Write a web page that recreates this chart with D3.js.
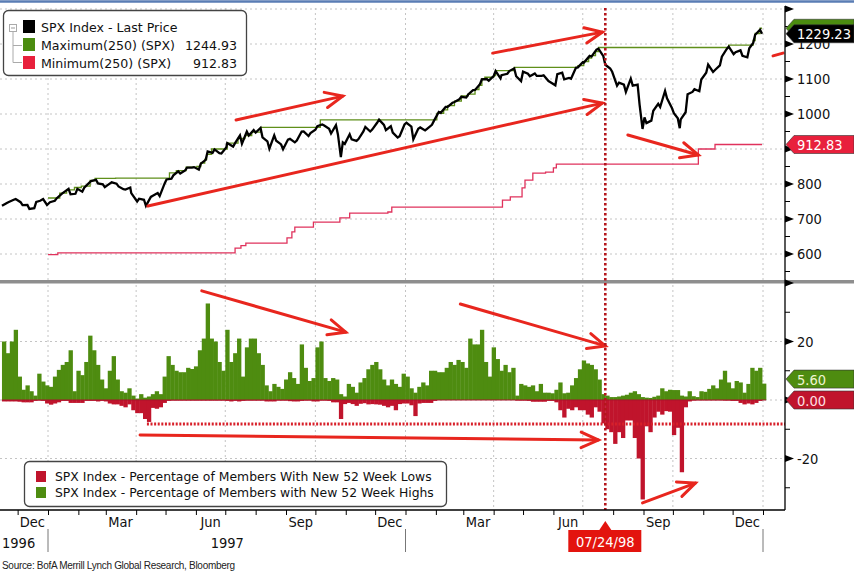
<!DOCTYPE html>
<html><head><meta charset="utf-8">
<script src="https://cdn.jsdelivr.net/npm/d3@7"></script>
<style>body{margin:0;background:#fff}svg{display:block}</style>
</head><body>
<svg id="c" width="854" height="572"></svg>
<script>
// ---------------- DATA ----------------
// weekly closes
const priceDates = ["1996-11-15","1996-11-22","1996-11-29","1996-12-06","1996-12-13","1996-12-20","1996-12-27","1997-01-03","1997-01-10","1997-01-17","1997-01-24","1997-01-31","1997-02-07","1997-02-14","1997-02-21","1997-02-28","1997-03-07","1997-03-14","1997-03-21","1997-03-27","1997-04-04","1997-04-11","1997-04-18","1997-04-25","1997-05-02","1997-05-09","1997-05-16","1997-05-23","1997-05-30","1997-06-06","1997-06-13","1997-06-20","1997-06-27","1997-07-03","1997-07-11","1997-07-18","1997-07-25","1997-08-01","1997-08-08","1997-08-15","1997-08-22","1997-08-29","1997-09-05","1997-09-12","1997-09-19","1997-09-26","1997-10-03","1997-10-10","1997-10-17","1997-10-24","1997-10-27","1997-10-31","1997-11-07","1997-11-14","1997-11-21","1997-11-28","1997-12-05","1997-12-12","1997-12-19","1997-12-26","1998-01-02","1998-01-09","1998-01-16","1998-01-23","1998-01-30","1998-02-06","1998-02-13","1998-02-20","1998-02-27","1998-03-06","1998-03-13","1998-03-20","1998-03-27","1998-04-03","1998-04-09","1998-04-17","1998-04-24","1998-05-01","1998-05-08","1998-05-15","1998-05-22","1998-05-29","1998-06-05","1998-06-12","1998-06-19","1998-06-26","1998-07-02","1998-07-10","1998-07-17","1998-07-24","1998-07-31","1998-08-07","1998-08-14","1998-08-21","1998-08-28","1998-08-31","1998-09-04","1998-09-11","1998-09-18","1998-09-25","1998-10-02","1998-10-08","1998-10-09","1998-10-16","1998-10-23","1998-10-30","1998-11-06","1998-11-13","1998-11-20","1998-11-27","1998-12-04","1998-12-11","1998-12-18","1998-12-24","1998-12-31"];
const priceValues = [737.6,748.7,757.0,739.6,728.6,748.9,756.8,748.0,759.5,776.2,770.5,786.2,789.6,808.5,801.8,790.8,804.9,793.2,784.1,773.9,757.9,737.7,766.3,765.4,812.9,824.8,829.8,847.0,848.3,858.0,893.3,898.7,887.3,916.9,916.7,915.3,938.8,947.1,933.5,900.8,923.5,899.5,929.1,923.9,950.5,945.2,965.0,966.9,944.2,941.6,876.9,914.6,927.5,928.4,963.1,955.4,983.8,954.0,946.8,936.5,975.0,927.7,961.5,957.6,980.3,1003.5,1020.1,1034.2,1049.3,1055.7,1068.6,1099.2,1095.4,1122.7,1110.7,1122.7,1107.9,1121.0,1108.1,1108.7,1110.5,1090.8,1113.9,1098.8,1100.7,1133.2,1146.4,1164.3,1186.8,1140.8,1120.7,1089.5,1062.8,1081.2,1027.1,957.3,973.9,1009.1,1020.1,1044.8,1002.6,959.4,984.6,1056.4,1070.7,1098.7,1141.0,1125.7,1163.6,1192.3,1176.7,1166.5,1188.0,1226.3,1229.23];
// mid-week readings
const midDates = ["1996-11-20","1996-11-27","1996-12-04","1996-12-11","1996-12-18","1996-12-24","1996-12-31","1997-01-08","1997-01-15","1997-01-22","1997-01-29","1997-02-05","1997-02-12","1997-02-19","1997-02-26","1997-03-05","1997-03-12","1997-03-19","1997-03-26","1997-04-02","1997-04-09","1997-04-16","1997-04-23","1997-04-30","1997-05-07","1997-05-14","1997-05-21","1997-05-28","1997-06-04","1997-06-11","1997-06-18","1997-06-25","1997-07-02","1997-07-09","1997-07-16","1997-07-23","1997-07-30","1997-08-06","1997-08-13","1997-08-20","1997-08-27","1997-09-03","1997-09-10","1997-09-17","1997-09-24","1997-10-01","1997-10-08","1997-10-15","1997-10-22","1997-10-29","1997-11-05","1997-11-12","1997-11-19","1997-11-26","1997-12-03","1997-12-10","1997-12-17","1997-12-24","1997-12-31","1998-01-07","1998-01-14","1998-01-21","1998-01-28","1998-02-04","1998-02-11","1998-02-18","1998-02-25","1998-03-04","1998-03-11","1998-03-18","1998-03-25","1998-04-01","1998-04-08","1998-04-15","1998-04-22","1998-04-29","1998-05-06","1998-05-13","1998-05-20","1998-05-27","1998-06-03","1998-06-10","1998-06-17","1998-06-24","1998-07-01","1998-07-08","1998-07-15","1998-07-22","1998-07-29","1998-08-05","1998-08-12","1998-08-19","1998-08-26","1998-09-02","1998-09-09","1998-09-16","1998-09-23","1998-09-30","1998-10-06","1998-10-14","1998-10-21","1998-10-28","1998-11-04","1998-11-11","1998-11-18","1998-11-25","1998-12-02","1998-12-09","1998-12-16","1998-12-22","1998-12-29"];
const midValues = [746,755,748,740,731,752,740,752,772,786,772,778,803,812,799,801,801,785,790,750,755,763,774,801,815,836,839,847,841,869,889,888,904,907,939,950,954,960,922,939,913,927,919,950,937,955,970,958,968,919,942,923,950,950,975,969,965,933,970,964,958,953,969,1006,1020,1032,1042,1047,1068,1085,1100,1108,1102,1115,1130,1094,1115,1116,1109,1094,1082,1118,1103,1132,1148,1166,1184,1165,1130,1081,1084,1101,1084,990,981,1029,1066,1017,988,1005,1063,1065,1118,1120,1139,1186,1171,1182,1162,1203,1241];

const maxDates = ["1997-01-01","1997-01-13","1997-01-20","1997-01-28","1997-02-04","1997-02-13","1997-02-18","1997-03-11","1997-05-05","1997-05-12","1997-05-22","1997-06-02","1997-06-06","1997-06-10","1997-06-12","1997-06-17","1997-07-03","1997-07-14","1997-07-21","1997-07-28","1997-08-06","1997-10-06","1998-02-02","1998-02-09","1998-02-13","1998-02-20","1998-02-27","1998-03-06","1998-03-13","1998-03-17","1998-03-20","1998-03-23","1998-04-01","1998-04-03","1998-04-22","1998-06-26","1998-07-02","1998-07-07","1998-07-10","1998-07-14","1998-07-17","1998-11-27","1998-12-22","1998-12-24","1998-12-29","1998-12-31"];
const maxValues = [760,774,783,790,794,810,816,817,832,838,848,850,860,870,885,900,917,930,938,948,962,983,1002,1012,1024,1037,1052,1057,1070,1082,1101,1105,1110,1124,1133,1138,1150,1160,1167,1178,1190,1197,1210,1230,1244.93,1244.93];

const minDates = ["1997-01-01","1997-01-11","1997-07-11","1997-07-17","1997-07-22","1997-09-02","1997-09-07","1997-09-10","1997-09-29","1997-10-26","1997-11-05","1997-12-14","1997-12-18","1998-04-10","1998-04-18","1998-04-30","1998-05-03","1998-05-11","1998-05-24","1998-06-01","1998-06-04","1998-10-27","1998-11-13","1998-12-31"];
const minValues = [598,603,617,624,631,646,663,677,691,703,717,720,734,754,763,789,811,831,834,846,857,900,912.83,912.83];

// breadth bars: one value per 4-day period starting at barStart
const barStart = "1996-11-15";
const barStepDays = 4;
const highsPct = [20,16,20,24,8,3.5,5,3,1.5,9,
 6.3,5,4.5,8,10.3,12,13,17,3,10,
 8.5,13,22,17,12,7,4,10,15,7,
 3,2.5,4,1.5,0.5,2,0.8,1.2,2,3,
 2,8,15,12,10,9.5,9.5,11,10.6,11.5,
 17,21,33,21,20,13,10,24,13,16,
 21,8,18,21,21,16,12,5,3,5.5,
 4.5,3.8,7,9.5,7.5,5.5,19,11,6.5,7.5,
 18,20,7.5,6.5,7.5,7,2,1.2,5.5,4.5,
 2.5,6,7.5,10.5,12,13,10.5,7,5,7,
 5.5,4.5,9,8,4,2.5,4.5,6,5,10,
 10,9.5,9.5,11,13,12,13.7,13,11,21,
 19,19,24,13,8,18,14,10,12,9.5,
 11,1.5,5.5,5,4.5,5,3,5.5,2.5,2.5,
 2.3,3.5,6,2.3,2.5,5,7.5,10.5,13.5,12.5,
 12,10.5,7,2,1.5,1,1,1.2,1.5,1.8,
 2.5,3,2,1,0.8,0.7,1.1,1.5,4,3,
 3.5,3.4,3.4,1.5,1.2,3,1.3,1,3,2.8,
 3.8,5,4,7,10,6,4,6.5,6,2.5,
 5.5,11,10,11,5.6];
const lowsPct = [-0.5,-0.5,-0.5,-0.5,-0.6,-0.8,-0.8,-0.8,-0.3,-0.2,
 -0.3,-1.2,-1.6,-1.2,-0.8,-0.3,-0.3,-1,-1,-1,
 -1,-0.3,-0.3,-0.3,-0.5,-0.3,-0.5,-1.2,-1.5,-1.5,
 -2,-2.5,-1.5,-3.5,-4.5,-4.5,-6.5,-7.5,-2.7,-3,
 -2.5,-1,-0.3,-0.2,-0.2,-0.2,-0.2,-0.2,-0.2,-0.2,
 -0.2,-0.2,-0.2,-0.2,-0.2,-0.2,-0.2,-0.3,-0.5,-0.3,
 -0.5,-0.3,-0.2,-0.2,-0.2,-0.2,-0.2,-0.5,-0.5,-0.5,
 -0.2,-0.2,-0.2,-0.4,-0.5,-0.5,-0.3,-0.2,-0.2,-0.5,
 -0.5,-0.2,-0.2,-0.3,-0.8,-0.8,-6.5,-1.4,-1,-1.4,
 -2,-1.3,-1.1,-1.5,-1.4,-1.5,-1.6,-2,-2.5,-2,
 -3.5,-1.4,-1.2,-1.2,-1.8,-5.5,-1.2,-1,-1,-1,
 -0.3,0,0,0,0,0,0,0,0,0,
 0,0,0,0,0,0,0,0,0,0,
 0,-0.2,-0.2,-0.2,-0.3,-0.6,-0.6,-0.6,-0.6,-0.3,
 -0.3,-0.8,-3.5,-6,-3,-3.5,-2.5,-3.5,-3.5,-5,
 -6,-2.5,-4,-8,-10,-11,-15,-11,-13,-7,
 -7,-13,-20,-34,-9,-11,-6,-4,-5,-3.8,
 -4,-12,-9.5,-24.7,-2.5,-0.5,-0.2,-0.1,-0.1,-0.1,
 -0.1,-0.1,-0.1,-0.1,-0.2,-0.2,-0.3,-0.3,-1,-1.5,
 -1.2,-1.5,-1,-0.3,0];

const priceTicks = [600,700,800,900,1000,1100,1200,1300];
const priceTickLabels = [600,700,800,1000,1100,1200];
const priceMinorTicks = [550,650,750,850,950,1050,1150,1250];
const pctTicks = [40,20,0,-20];
const pctTickLabels = [20,-20];
const pctMinorTicks = [30,10,-10,-30];
const monthLabelNames = ["Dec","Mar","Jun","Sep"];
const yearLabels = ["1996","1997"];
const legendTop = [
  {name:"SPX Index - Last Price", value:"", color:"#000000"},
  {name:"Maximum(250) (SPX)", value:"1244.93", color:"#4b8c10"},
  {name:"Minimum(250) (SPX)", value:"912.83", color:"#e8203c"}
];
const legendBottom = [
  {name:"SPX Index - Percentage of Members With New 52 Week Lows", color:"#c0142c"},
  {name:"SPX Index - Percentage of Members with New 52 Week Highs", color:"#4e8c10"}
];
const lastPrice = 1229.23, lastMax = 1244.93, lastMin = 912.83, lastHigh = 5.60, lastLow = 0.00;
const markerDate = "1998-07-24";
// hand-drawn annotations in data coordinates [date, value]
const topArrows = [
  [["1997-07-12",983],["1997-10-29",1051]],
  [["1997-04-13",737],["1998-07-21",1031]],
  [["1998-03-31",1174],["1998-07-21",1234]],
  [["1998-08-16",940],["1998-10-27",883]]
];
const bottomArrows = [
  [["1997-06-07",37.3],["1997-11-01",23.2]],
  [["1998-02-26",32.8],["1998-07-24",18.5]],
  [["1997-04-05",-12.0],["1998-07-17",-13.7]],
  [["1998-08-31",-35.2],["1998-10-24",-28.4]]
];
const lowsThresholdStart = "1997-04-12", lowsThreshold = -8.2;

// ---------------- CHART ----------------
const parse = d3.timeParse("%Y-%m-%d");
const svg = d3.select("#c");
const AX = 785;
const FONT_AX = "'DejaVu Sans Condensed','DejaVu Sans',sans-serif";
const FONT_LG = "'DejaVu Sans',sans-serif";

const x = d3.scaleTime().domain([new Date(1997,0,1), new Date(1999,0,1)]).range([48,763]);
const yP = d3.scaleLinear().domain([800,1200]).range([184,44]);
const yB = d3.scaleLinear().domain([0,20]).range([400,341.5]);

// top blue rule
svg.append("line").attr("x1",0).attr("x2",854).attr("y1",1.5).attr("y2",1.5)
  .attr("stroke","#5a7db4").attr("stroke-width",2.5);

// gridlines
const grid = svg.append("g").attr("stroke","#c4c4c4").attr("stroke-dasharray","2,3").attr("stroke-width",1);
priceTicks.forEach(v => grid.append("line").attr("x1",0).attr("x2",AX).attr("y1",yP(v)).attr("y2",yP(v)));
[20,0,-20].forEach(v => grid.append("line").attr("x1",0).attr("x2",AX).attr("y1",yB(v)).attr("y2",yB(v)));
const quarters = d3.timeMonth.every(3).range(new Date(1997,0,1), new Date(1999,0,2));
quarters.forEach(d => {
  grid.append("line").attr("x1",x(d)).attr("x2",x(d)).attr("y1",8).attr("y2",280);
  grid.append("line").attr("x1",x(d)).attr("x2",x(d)).attr("y1",285).attr("y2",510);
});

// max / min step lines
const stepLine = d3.line().x(d=>x(d[0])).y(d=>yP(d[1])).curve(d3.curveStepAfter);
svg.append("path").datum(maxDates.map((d,i)=>[parse(d),maxValues[i]]))
  .attr("d",stepLine).attr("fill","none").attr("stroke","#5f8f1a").attr("stroke-width",1.3);
svg.append("path").datum(minDates.map((d,i)=>[parse(d),minValues[i]]))
  .attr("d",stepLine).attr("fill","none").attr("stroke","#e0325c").attr("stroke-width",1.3);

// price (weekly closes merged with mid-week readings)
const priceTable = priceDates.map((d,i)=>[parse(d),priceValues[i]])
  .concat(midDates.map((d,i)=>[parse(d),midValues[i]]))
  .sort((a,b)=>a[0]-b[0]);
const priceLine = d3.line().x(d=>x(d[0])).y(d=>yP(d[1]));
svg.append("path").datum(priceTable)
  .attr("d",priceLine).attr("fill","none").attr("stroke","#000").attr("stroke-width",2.3).attr("stroke-linejoin","miter");

// bars
const b0 = parse(barStart);
const barDate = i => d3.timeDay.offset(b0, i*barStepDays);
const bars = svg.append("g");
highsPct.forEach((v,i) => {
  const x0 = x(barDate(i)), x1 = x(barDate(i+1));
  bars.append("rect").attr("x",x0).attr("width",x1-x0+0.4)
    .attr("y",yB(v)).attr("height",yB(0)-yB(v)).attr("fill","#4e8c10");
});
lowsPct.forEach((v,i) => {
  if (v >= 0) return;
  const x0 = x(barDate(i)), x1 = x(barDate(i+1));
  bars.append("rect").attr("x",x0).attr("width",x1-x0+0.4)
    .attr("y",yB(0)).attr("height",yB(v)-yB(0)).attr("fill","#c0142c");
});
svg.append("line").attr("x1",x(b0)).attr("x2",x(barDate(highsPct.length))).attr("y1",yB(0)).attr("y2",yB(0))
  .attr("stroke","#a8122a").attr("stroke-width",1);

// panel separator
svg.append("rect").attr("x",0).attr("y",280).attr("width",854).attr("height",3.5).attr("fill","#8e8e8e");

// annotations
const ann = svg.append("g").attr("stroke","#e8261e").attr("stroke-width",3).attr("fill","none").attr("stroke-linecap","round");
function arrow(p1,p2,ys){
  const X1=x(parse(p1[0])),Y1=ys(p1[1]),X2=x(parse(p2[0])),Y2=ys(p2[1]);
  ann.append("line").attr("x1",X1).attr("y1",Y1).attr("x2",X2).attr("y2",Y2);
  const a=Math.atan2(Y2-Y1,X2-X1), L=19, h=0.42;
  ann.append("path").attr("d",`M${X2-L*Math.cos(a-h)},${Y2-L*Math.sin(a-h)}L${X2},${Y2}L${X2-L*Math.cos(a+h)},${Y2-L*Math.sin(a+h)}`)
    .attr("stroke-linejoin","miter");
}
topArrows.forEach(a=>arrow(a[0],a[1],yP));
bottomArrows.forEach(a=>arrow(a[0],a[1],yB));
ann.append("line").attr("x1",773).attr("y1",yP(1166)).attr("x2",783).attr("y2",yP(1174));

// lows threshold dotted line
svg.append("line").attr("x1",x(parse(lowsThresholdStart))).attr("x2",AX).attr("y1",yB(lowsThreshold)).attr("y2",yB(lowsThreshold))
  .attr("stroke","#d8202a").attr("stroke-width",3).attr("stroke-dasharray","2,1.6");

// vertical marker line
const mx = x(parse(markerDate));
svg.append("line").attr("x1",mx).attr("x2",mx).attr("y1",8).attr("y2",510)
  .attr("stroke","#b4161c").attr("stroke-width",2.6).attr("stroke-dasharray","2.5,2.5");

// right axes
const axT = svg.append("g").attr("transform",`translate(${AX},0)`)
  .call(d3.axisRight(yP).tickValues(priceTickLabels).tickSize(0).tickPadding(12).tickFormat(d3.format("d")));
const axB = svg.append("g").attr("transform",`translate(${AX},0)`)
  .call(d3.axisRight(yB).tickValues(pctTickLabels).tickSize(0).tickPadding(12).tickFormat(d=>d<0?"-"+Math.abs(d):String(d)));
[axT,axB].forEach(g=>{
  g.select(".domain").remove();
  g.selectAll("text").attr("font-family",FONT_AX).attr("font-size",14.5).attr("fill","#111");
});
svg.append("line").attr("x1",AX).attr("x2",AX).attr("y1",6).attr("y2",510).attr("stroke","#000").attr("stroke-width",1.3);
const tickG = svg.append("g");
priceTicks.forEach(v=>tickG.append("path").attr("d",`M${AX},${yP(v)-3.5}L${AX+9},${yP(v)}L${AX},${yP(v)+3.5}Z`).attr("fill","#000"));
pctTicks.forEach(v=>tickG.append("path").attr("d",`M${AX},${yB(v)-3.5}L${AX+9},${yB(v)}L${AX},${yB(v)+3.5}Z`).attr("fill","#000"));
priceMinorTicks.forEach(v=>tickG.append("line").attr("x1",AX).attr("x2",AX+5).attr("y1",yP(v)).attr("y2",yP(v)).attr("stroke","#000"));
pctMinorTicks.forEach(v=>tickG.append("line").attr("x1",AX).attr("x2",AX+5).attr("y1",yB(v)).attr("y2",yB(v)).attr("stroke","#000"));

// bottom axis
svg.append("line").attr("x1",0).attr("x2",AX).attr("y1",510).attr("y2",510).attr("stroke","#000").attr("stroke-width",1.3);
const months = d3.timeMonth.range(new Date(1996,11,1), new Date(1999,0,2));
const axX = svg.append("g").attr("transform","translate(0,510)")
  .call(d3.axisBottom(x).tickValues(months).tickSize(5).tickFormat(""));
axX.select(".domain").remove();
axX.selectAll("line").attr("stroke","#000");
const fmtM = d3.timeFormat("%b");
months.forEach(m=>{
  const name = fmtM(m);
  if (!monthLabelNames.includes(name)) return;
  svg.append("text").attr("x",x(d3.timeDay.offset(m,15))).attr("y",527).attr("text-anchor","middle")
    .attr("font-family",FONT_AX).attr("font-size",14.5).attr("fill","#111").text(name);
});
// year row
[new Date(1997,0,1),new Date(1998,0,1),new Date(1999,0,1)].forEach(d=>
  svg.append("line").attr("x1",x(d)).attr("x2",x(d)).attr("y1",529).attr("y2",552).attr("stroke","#777").attr("stroke-width",1));
svg.append("text").attr("x",2).attr("y",548).attr("font-family",FONT_AX).attr("font-size",14.5).attr("fill","#111").text(yearLabels[0]);
svg.append("text").attr("x",x(new Date(1997,6,3))).attr("y",548).attr("text-anchor","middle").attr("font-family",FONT_AX).attr("font-size",14.5).attr("fill","#111").text(yearLabels[1]);

// marker date label
const mlab = svg.append("g");
mlab.append("path").attr("d",`M${mx},521L${mx-6},530L${mx+6},530Z`).attr("fill","#e3140e");
mlab.append("rect").attr("x",mx-37).attr("y",530).attr("width",73).attr("height",22).attr("fill","#e3140e");
mlab.append("text").attr("x",mx).attr("y",547).attr("text-anchor","middle").attr("font-family",FONT_AX)
  .attr("font-size",14.5).attr("fill","#fff").text(d3.timeFormat("%m/%d/%y")(parse(markerDate)));

// value tags
function tag(cy, fill, txt, tfill){
  const g = svg.append("g");
  g.append("path").attr("d",`M${AX+1},${cy}L${AX+9},${cy-9}H854V${cy+9}H${AX+9}Z`).attr("fill",fill).attr("stroke","#333").attr("stroke-width",0.6);
  if (txt) g.append("text").attr("x",AX+12).attr("y",cy+5.5).attr("font-family",FONT_AX).attr("font-size",14.5).attr("fill",tfill).text(txt);
}
tag(yP(lastMax),"#4b8c10","",null);
tag(yP(lastPrice),"#000",d3.format(".2f")(lastPrice),"#fff");
tag(yP(lastMin),"#e8203c",d3.format(".2f")(lastMin),"#fff");
tag(yB(lastHigh)-4.5,"#4e8c10",d3.format(".2f")(lastHigh),"#eef5d0");
tag(yB(lastLow),"#c0142c",d3.format(".2f")(lastLow),"#ffe0e4");

// top legend
const lt = svg.append("g");
lt.append("rect").attr("x",3.5).attr("y",10.5).attr("width",243).attr("height",65).attr("rx",5)
  .attr("fill","#fff").attr("stroke","#444").attr("stroke-width",1.3);
lt.append("rect").attr("x",9.5).attr("y",24.5).attr("width",7).attr("height",7).attr("fill","#fff").attr("stroke","#aaa");
lt.append("line").attr("x1",11).attr("x2",15).attr("y1",28).attr("y2",28).attr("stroke","#999");
lt.append("path").attr("d","M13,32V62.5H22M13,45.5H22").attr("fill","none").attr("stroke","#aaa");
legendTop.forEach((d,i)=>{
  const yy = 20 + i*18;
  lt.append("rect").attr("x",23).attr("y",yy).attr("width",12).attr("height",13).attr("fill",d.color);
  lt.append("text").attr("x",41).attr("y",yy+12).attr("font-family",FONT_LG).attr("font-size",12.6).attr("fill","#111").text(d.name);
  if (d.value) lt.append("text").attr("x",237).attr("y",yy+12).attr("text-anchor","end").attr("font-family",FONT_LG).attr("font-size",12.6).attr("fill","#111").text(d.value);
});

// bottom legend
const lb = svg.append("g");
lb.append("rect").attr("x",24.5).attr("y",461.5).attr("width",422).attr("height",45).attr("rx",5)
  .attr("fill","#fff").attr("stroke","#444").attr("stroke-width",1.3);
legendBottom.forEach((d,i)=>{
  const yy = 471 + i*16;
  lb.append("rect").attr("x",36).attr("y",yy).attr("width",10).attr("height",11).attr("fill",d.color);
  lb.append("text").attr("x",55).attr("y",yy+10).attr("font-family",FONT_LG).attr("font-size",12.4).attr("fill","#111").text(d.name);
});

// source
svg.append("text").attr("x",2).attr("y",569).attr("font-family","'Liberation Sans Narrow','Liberation Sans',sans-serif")
  .attr("font-size",10).attr("letter-spacing",-0.3).attr("fill","#222").text("Source: BofA Merrill Lynch Global Research, Bloomberg");
</script>
</body></html>
